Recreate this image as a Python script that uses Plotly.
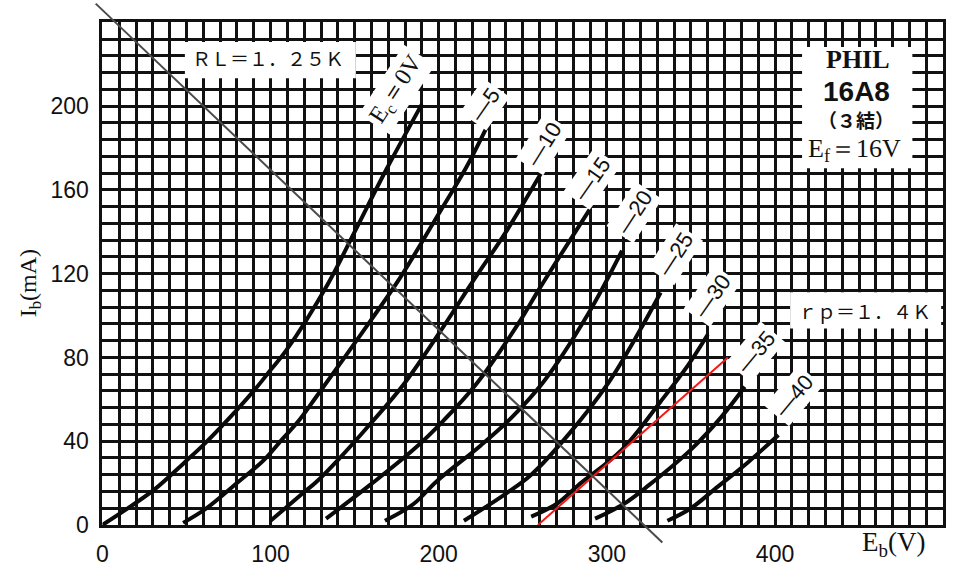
import plotly.graph_objects as go

# ---------------- data ----------------
GRID_LABELS = ["0V", "-5", "-10", "-15", "-20", "-25", "-30", "-35", "-40"]

EB_0 = [0, 17, 31, 49, 61, 80, 91, 100, 109, 134, 150, 169, 190]
IB_0 = [0, 9, 17, 30, 39, 55, 65, 74, 83, 115, 140, 170, 201]

EB_5 = [48, 62, 80, 96, 107, 117, 127, 159, 177, 201, 216.5, 231]
IB_5 = [1, 8, 20, 31, 41, 50, 61, 97, 118, 150, 171, 194]

EB_10 = [100, 120, 127, 140, 159, 179, 203, 220, 240, 263]
IB_10 = [2, 15.7, 20.4, 31, 48, 67, 95, 116, 140, 171]

EB_15 = [133, 159, 185, 203, 222, 248, 260, 290]
IB_15 = [3, 19, 36, 50, 67, 97, 113, 151]

EB_20 = [168, 185, 199, 225, 243, 262, 289, 309]
IB_20 = [2, 10, 21, 38, 51, 68, 101, 131]

EB_25 = [215, 240, 255, 278, 301, 319, 332]
IB_25 = [2, 15, 24, 44, 68, 92, 111]

EB_30 = [255, 270, 283, 309, 332, 348, 360]
IB_30 = [4, 10, 19, 36, 59, 76, 91]

EB_35 = [293, 310, 325, 350, 368, 382]
IB_35 = [3, 10, 19, 36, 51.5, 66]

EB_40 = [336, 350, 364, 384, 402]
IB_40 = [2, 8, 17, 30, 43]

LOAD_EB = [-4, 333]      # RL = 1.25K load line
LOAD_IB = [249, -8.4]
RP_EB = [259, 372]       # rp = 1.4K slope line
RP_IB = [0, 80]

X_TICKS = [0, 100, 200, 300, 400]
Y_TICKS = [0, 40, 80, 120, 160, 200]

CURVES = [(EB_0, IB_0), (EB_5, IB_5), (EB_10, IB_10), (EB_15, IB_15),
          (EB_20, IB_20), (EB_25, IB_25), (EB_30, IB_30), (EB_35, IB_35),
          (EB_40, IB_40)]

# ---------------- layout geometry ----------------
W, H = 972, 580
PL, PR, PT, PB = 97, 943, 23, 537       # plot-area pixel box
XMAX, YMAX = 500, 240
ppx = (PR - PL) / XMAX
ppy = (PB - PT) / YMAX

def px(x):
    return x / W

def py(y):
    return 1 - y / H

fig = go.Figure()

for (xs, ys) in CURVES:
    fig.add_trace(go.Scatter(x=xs, y=ys, mode="lines",
                             line=dict(color="#0a0a0a", width=4, shape="spline", smoothing=1.0),
                             showlegend=False))
fig.add_trace(go.Scatter(x=RP_EB, y=RP_IB, mode="lines",
                         line=dict(color="#f01818", width=2), showlegend=False))
# load line on a full-figure axis pair with the same scale, so it may run past the grid
fig.add_trace(go.Scatter(x=LOAD_EB, y=LOAD_IB, mode="lines", xaxis="x2", yaxis="y2",
                         line=dict(color="#4a4a4a", width=2), hoverinfo="skip", showlegend=False))

fig.update_layout(
    width=W, height=H, autosize=False,
    margin=dict(l=0, r=0, t=0, b=0),
    paper_bgcolor="white", plot_bgcolor="rgba(0,0,0,0)",
    xaxis=dict(domain=[PL / W, PR / W], range=[0, XMAX], tickvals=X_TICKS,
               ticks="", ticklabelstandoff=6, zeroline=False,
               showline=True, linecolor="#111", linewidth=3, mirror=True,
               showgrid=True, gridcolor="#111111", gridwidth=2.6,
               tickfont=dict(family="Liberation Sans", size=23, color="#111"),
               minor=dict(dtick=10, tick0=0, showgrid=True, gridcolor="#111111", gridwidth=2.6)),
    yaxis=dict(domain=[1 - PB / H, 1 - PT / H], range=[0, YMAX], tickvals=Y_TICKS,
               ticks="", ticklabelstandoff=6, zeroline=False,
               showline=True, linecolor="#111", linewidth=3, mirror=True,
               showgrid=True, gridcolor="#111111", gridwidth=2.6,
               tickfont=dict(family="Liberation Sans", size=23, color="#111"),
               minor=dict(dtick=8, tick0=0, showgrid=True, gridcolor="#111111", gridwidth=2.6)),
    xaxis2=dict(domain=[0, 1], anchor="y2", visible=False,
                range=[-PL / ppx, XMAX + (W - PR) / ppx]),
    yaxis2=dict(domain=[0, 1], anchor="x2", visible=False,
                range=[-(H - PB) / ppy, YMAX + PT / ppy]),
)

shapes = [
    dict(type="rect", xref="paper", yref="paper", x0=px(180), x1=px(352), y0=py(80), y1=py(43),
         fillcolor="white", line=dict(width=0), layer="above"),
    dict(type="rect", xref="paper", yref="paper", x0=px(789), x1=px(941), y0=py(336), y1=py(299),
         fillcolor="white", line=dict(width=0), layer="above"),
    dict(type="rect", xref="paper", yref="paper", x0=px(801), x1=px(912), y0=py(172), y1=py(48),
         fillcolor="white", line=dict(width=0), layer="above"),
]
fig.update_layout(shapes=shapes)

ann = []
def A(text, x, y, size, family="Liberation Sans", angle=0, bg=None, **kw):
    d = dict(text=text, x=px(x), y=py(y), xref="paper", yref="paper", showarrow=False,
             xanchor="center", yanchor="middle", textangle=angle,
             font=dict(family=family, size=size, color="#111"))
    if bg:
        d.update(bgcolor=bg, borderpad=3)
    d.update(kw)
    ann.append(d)

A("ＲＬ＝１．２５Ｋ", 264, 59, 19, family="Noto Sans CJK JP")
A("ｒｐ＝１．４Ｋ", 864, 318, 19, family="Noto Sans CJK JP")
A("<b>PHIL</b>", 857, 61, 26, family="Liberation Serif")
A("<b>16A8</b>", 856, 94, 28, family="Liberation Sans")
A("<b>（３結）</b>", 855, 122, 19, family="Noto Sans CJK JP")
A("E<sub>f</sub>＝16V", 854, 153, 26, family="Liberation Serif")
A("I<sub>b</sub>(mA)", 24, 290, 24, family="Liberation Serif", angle=-90)
A("E<sub>b</sub>(V)", 893, 556, 27, family="Liberation Serif")

LABEL_POS = [(393, 92, -57), (482, 107, -55), (541, 148, -58), (590, 183, -55),
             (632, 217, -57), (673, 260, -57), (710, 303, -55), (755, 360, -50),
             (793, 405, -50)]
for lab, (lx, ly, la) in zip(GRID_LABELS, LABEL_POS):
    if lab == "0V":
        A("E<sub>c</sub>＝0V", lx, ly, 24, family="Liberation Serif", angle=la, bg="white")
    else:
        A("—" + lab[1:], lx, ly, 22, angle=la, bg="white")

fig.update_layout(annotations=ann)
fig.write_html("out.html", config={"displayModeBar": False},
               post_script="document.body.style.margin='0';document.body.style.overflow='hidden';")
